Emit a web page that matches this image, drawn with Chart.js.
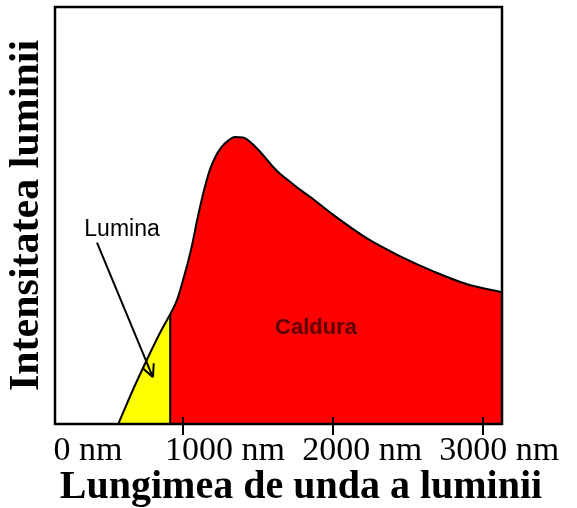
<!DOCTYPE html>
<html><head><meta charset="utf-8">
<script src="https://cdn.jsdelivr.net/npm/chart.js@4/dist/chart.umd.min.js"></script>
<style>html,body{margin:0;padding:0;background:#fff;}</style>
</head><body>
<canvas id="c" width="577" height="508"></canvas>
<script>
// Visible light part (nm, relative intensity)
const lightWavelength = [567, 667, 760, 847, 913];
const lightIntensity  = [0, 8.4, 15.6, 22.0, 26.3];
// Heat (infrared) part
const heatWavelength = [913, 960, 1000, 1033, 1060, 1093, 1125, 1152, 1178, 1212, 1252, 1298, 1345, 1398, 1445, 1512, 1558, 1598, 1645, 1712, 1778, 1845, 1998, 2225, 2447, 2667, 2893, 3125];
const heatIntensity  = [26.3, 29.9, 34.7, 39.0, 43.1, 49.0, 54.1, 57.9, 61.0, 63.9, 66.3, 67.9, 68.8, 68.7, 67.7, 65.3, 63.4, 61.7, 60.0, 58.1, 56.2, 54.5, 50.2, 44.5, 40.2, 36.6, 33.5, 31.6];
const tickMarks = [1000, 2000, 3000];
const tickLabelValues = [0, 1000, 2000, 3000];
const tickLabels = ['0 nm', '1000 nm', '2000 nm', '3000 nm'];
const xTitle = 'Lungimea de unda a luminii';
const yTitle = 'Intensitatea luminii';
const lightLabel = 'Lumina';
const heatLabel = 'Caldura';

const SERIF = '"Liberation Serif", "Times New Roman", serif';
const SANS = '"Liberation Sans", Arial, sans-serif';

const toPts = (xs, ys) => xs.map((x, i) => ({x: x, y: ys[i]}));
const divX = lightWavelength[lightWavelength.length - 1];
const divY = lightIntensity[lightIntensity.length - 1];

const decorPlugin = {
  id: 'decor',
  afterDatasetsDraw(chart) {
    const {ctx, chartArea: a, scales: {x, y}} = chart;
    ctx.save();
    ctx.strokeStyle = '#000';
    ctx.lineWidth = 2.5;
    ctx.strokeRect(a.left, a.top, a.right - a.left, a.bottom - a.top);
    // tick marks crossing the axis line
    ctx.lineWidth = 2;
    ctx.beginPath();
    tickMarks.forEach(v => {
      const px = Math.round(x.getPixelForValue(v));
      ctx.moveTo(px, a.bottom - 7);
      ctx.lineTo(px, a.bottom + 11);
    });
    ctx.stroke();
    // labels
    ctx.textAlign = 'center';
    ctx.textBaseline = 'middle';
    ctx.fillStyle = '#000';
    ctx.font = '23px ' + SANS;
    ctx.fillText(lightLabel, x.getPixelForValue(592), y.getPixelForValue(46.7));
    ctx.fillStyle = '#5a0000';
    ctx.font = 'bold 22px ' + SANS;
    ctx.fillText(heatLabel, x.getPixelForValue(1885), y.getPixelForValue(23.0));
    // arrow
    const x1 = x.getPixelForValue(425), y1 = y.getPixelForValue(43.5);
    const x2 = x.getPixelForValue(798), y2 = y.getPixelForValue(11.2);
    ctx.strokeStyle = '#000';
    ctx.lineWidth = 2;
    ctx.beginPath();
    ctx.moveTo(x1, y1); ctx.lineTo(x2, y2);
    const ang = Math.atan2(y2 - y1, x2 - x1);
    const L = 14, w = 0.45;
    ctx.moveTo(x2, y2); ctx.lineTo(x2 - L * Math.cos(ang - w), y2 - L * Math.sin(ang - w));
    ctx.moveTo(x2, y2); ctx.lineTo(x2 - L * Math.cos(ang + w), y2 - L * Math.sin(ang + w));
    ctx.stroke();
    ctx.restore();
  }
};

new Chart(document.getElementById('c'), {
  type: 'line',
  data: {
    datasets: [
      {
        label: 'divider',
        data: [{x: divX, y: 0}, {x: divX, y: divY}],
        borderColor: '#000', borderWidth: 2, fill: false, pointRadius: 0, tension: 0
      },
      {
        label: lightLabel,
        data: toPts(lightWavelength, lightIntensity),
        borderColor: '#000', borderWidth: 2, backgroundColor: '#ffff00',
        fill: 'origin', pointRadius: 0, cubicInterpolationMode: 'monotone'
      },
      {
        label: heatLabel,
        data: toPts(heatWavelength, heatIntensity),
        borderColor: '#000', borderWidth: 2, backgroundColor: '#ff0000',
        fill: 'origin', pointRadius: 0, cubicInterpolationMode: 'monotone'
      }
    ]
  },
  options: {
    responsive: false, animation: false, devicePixelRatio: 1,
    layout: {padding: {top: 7, left: 25, right: 0, bottom: 0}},
    plugins: {
      legend: {display: false},
      tooltip: {enabled: false},
      title: {
        display: true, position: 'bottom', text: xTitle, color: '#000',
        font: {family: SERIF, size: 40, weight: 'bold', lineHeight: 1},
        padding: {top: 0, bottom: 0}
      }
    },
    scales: {
      x: {
        type: 'linear', position: 'bottom', min: 145, max: 3125, weight: 1,
        afterBuildTicks: s => { s.ticks = tickMarks.map(v => ({value: v})); },
        ticks: {display: false},
        grid: {display: true, drawOnChartArea: false, drawTicks: true, tickLength: 10, color: '#000', lineWidth: 2},
        border: {display: false}
      },
      xl: {
        type: 'linear', position: 'bottom', min: -240, max: 3020, weight: 2,
        afterBuildTicks: s => { s.ticks = tickLabelValues.map(v => ({value: v})); },
        ticks: {
          display: true, autoSkip: false, maxRotation: 0, padding: 0, color: '#000',
          font: {family: SERIF, size: 34, lineHeight: 1},
          callback: v => tickLabels[tickLabelValues.indexOf(v)]
        },
        grid: {display: false, drawTicks: false},
        border: {display: false}
      },
      y: {
        type: 'linear', position: 'left', min: 0, max: 100,
        ticks: {display: false},
        grid: {display: false, drawTicks: false},
        border: {display: false},
        title: {
          display: true, text: yTitle, color: '#000',
          font: {family: SERIF, size: 42, weight: 'bold', lineHeight: 1.2},
          padding: {top: -23, bottom: 0}
        },
        afterFit: s => { s.width = 30; }
      },
      y2: {
        type: 'linear', position: 'right', display: true,
        ticks: {display: false},
        grid: {display: false, drawTicks: false},
        border: {display: false},
        afterFit: s => { s.width = 75; }
      }
    }
  },
  plugins: [decorPlugin]
});
</script>
</body></html>
